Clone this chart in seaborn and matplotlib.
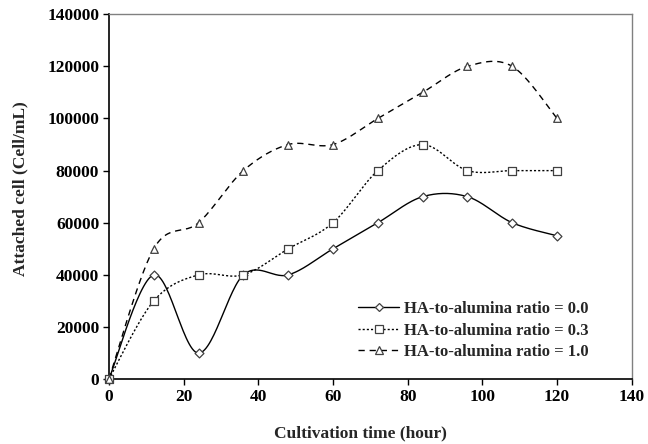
import numpy as np
import pandas as pd
import matplotlib
matplotlib.use("Agg")
import matplotlib.pyplot as plt
from matplotlib.lines import Line2D
import seaborn as sns

hours = [0, 12, 24, 36, 48, 60, 72, 84, 96, 108, 120]
ratio_00 = [0, 40000, 10000, 40000, 40000, 50000, 60000, 70000, 70000, 60000, 55000]
ratio_03 = [0, 30000, 40000, 40000, 50000, 60000, 80000, 90000, 80000, 80000, 80000]
ratio_10 = [0, 50000, 60000, 80000, 90000, 90000, 100000, 110000, 120000, 120000, 100000]

labels = ["HA-to-alumina ratio = 0.0",
          "HA-to-alumina ratio = 0.3",
          "HA-to-alumina ratio = 1.0"]
series = [ratio_00, ratio_03, ratio_10]
markers = ["D", "s", "^"]
msizes = [4.5, 5.5, 5.5]
dashes = [(None, None), (1.5, 1.5), (4.5, 3.5)]


def smooth(x, y, sx, sy, n=30):
    # Excel-like smoothed line: Bezier segments through the points
    px = np.asarray(x, float) * sx
    py = np.asarray(y, float) * sy
    P = np.column_stack([px, py])
    P = np.vstack([P[0], P, P[-1]])
    out = []
    t = np.linspace(0, 1, n)[:, None]
    for i in range(1, len(P) - 2):
        p0, p1, p2, p3 = P[i - 1], P[i], P[i + 1], P[i + 2]
        c1 = p1 + (p2 - p0) / 6.0
        c2 = p2 - (p3 - p1) / 6.0
        seg = ((1 - t) ** 3) * p1 + 3 * ((1 - t) ** 2) * t * c1 \
            + 3 * (1 - t) * t ** 2 * c2 + t ** 3 * p2
        out.append(seg if i == 1 else seg[1:])
    out = np.vstack(out)
    return out[:, 0] / sx, out[:, 1] / sy


sns.set_style("white")
plt.rcParams["font.family"] = ["Liberation Serif", "DejaVu Serif"]
plt.rcParams["font.weight"] = "bold"

fig = plt.figure(figsize=(6.48, 4.44), dpi=100)
ax = fig.add_axes([0.168, 0.146, 0.807, 0.822])

# scale to screen units so the curve shape matches the plot aspect
sx = 523 / 140.0
sy = 365 / 140000.0

handles = []
for vals, lab, mk, ms, ds in zip(series, labels, markers, msizes, dashes):
    cx, cy = smooth(hours, vals, sx, sy)
    curve = pd.DataFrame({"x": cx, "y": cy})
    sns.lineplot(data=curve, x="x", y="y", sort=False, ax=ax, color="black",
                 linewidth=1.0, estimator=None)
    if ds[0] is not None:
        ax.lines[-1].set_dashes(ds)
    pts = pd.DataFrame({"x": hours, "y": vals})
    sns.scatterplot(data=pts, x="x", y="y", ax=ax, marker=mk, s=ms ** 2,
                    facecolor="white", edgecolor="#404040", linewidth=0.9,
                    zorder=3, clip_on=False)
    h = Line2D([], [], color="black", linewidth=1.0, marker=mk,
               markersize=ms, markerfacecolor="white",
               markeredgecolor="#404040", markeredgewidth=0.9)
    if ds[0] is not None:
        h.set_dashes(ds)
    handles.append(h)

ax.set_xlim(0, 140)
ax.set_ylim(0, 140000)
ax.set_xticks(range(0, 141, 20))
ax.set_yticks(range(0, 140001, 20000))
ax.tick_params(axis="both", direction="out", length=4, width=1,
               labelsize=12.5, bottom=True, left=True, colors="black", pad=3)
for t in ax.get_xticklabels() + ax.get_yticklabels():
    t.set_fontweight("bold")

for side in ["left", "bottom"]:
    ax.spines[side].set_color("black")
    ax.spines[side].set_linewidth(1.2)
for side in ["top", "right"]:
    ax.spines[side].set_color("#808080")
    ax.spines[side].set_linewidth(1.0)

ax.set_xlabel("Cultivation time (hour)", fontsize=12.5, fontweight="bold",
              va="center")
ax.set_ylabel("Attached cell (Cell/mL)", fontsize=12.5, fontweight="bold",
              va="center")
ax.xaxis.set_label_coords(0.482, -0.148)
ax.yaxis.set_label_coords(-0.170, 0.523)

leg = ax.legend(handles, labels, loc="upper left",
                bbox_to_anchor=(0.476, 0.214), frameon=False,
                borderpad=0, borderaxespad=0,
                handlelength=2.5, handletextpad=0.3, labelspacing=0.33,
                prop={"weight": "bold", "size": 12})

fig.savefig("out.png", dpi=100)
